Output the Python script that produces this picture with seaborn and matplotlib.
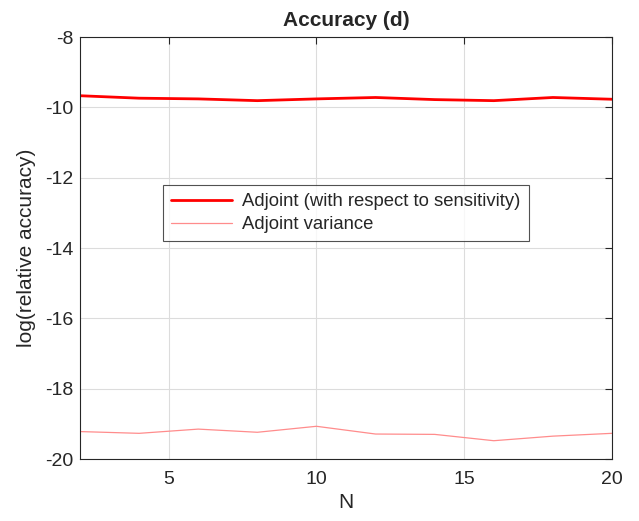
import numpy as np
import pandas as pd
import matplotlib
matplotlib.use('Agg')
from matplotlib import pyplot as plt
import seaborn as sns

# data
N = [2, 4, 6, 8, 10, 12, 14, 16, 18, 20]
adjoint = [-9.67, -9.74, -9.76, -9.81, -9.76, -9.72, -9.78, -9.81, -9.72, -9.77]
adjoint_var = [-19.22, -19.27, -19.15, -19.24, -19.07, -19.29, -19.30, -19.48, -19.35, -19.27]
labels = ['Adjoint (with respect to sensitivity)', 'Adjoint variance']

df = pd.DataFrame({'N': N * 2,
                   'value': adjoint + adjoint_var,
                   'series': [labels[0]] * len(N) + [labels[1]] * len(N)})

sns.set_style('white')
plt.rcParams['font.family'] = ['Liberation Sans', 'DejaVu Sans']
plt.rcParams['axes.unicode_minus'] = False

fig = plt.figure(figsize=(6.39, 5.21), dpi=100)
ax = fig.add_axes([80 / 639, 1 - 459 / 521, 532 / 639, 422 / 521])

g = sns.lineplot(data=df, x='N', y='value', hue='series', size='series',
                 palette={labels[0]: '#ff0000', labels[1]: '#ff8c8c'},
                 sizes={labels[0]: 2.0, labels[1]: 0.9}, ax=ax, legend=True)

ax.set_xlim(2, 20)
ax.set_ylim(-20, -8)
ax.set_xticks([5, 10, 15, 20])
ax.set_yticks(np.arange(-20, -7, 2))
ax.grid(True, color='#dcdcdc', linewidth=0.8)
ax.tick_params(direction='in', labelsize=14, length=5, top=True, right=True,
               labeltop=False, labelright=False, color='#262626', labelcolor='#262626')
ax.tick_params(axis='x', pad=9)
ax.tick_params(axis='y', pad=5)
for s in ax.spines.values():
    s.set_color('#262626')
    s.set_linewidth(0.8)

ax.set_xlabel('N', fontsize=15, color='#262626', labelpad=3)
ax.set_ylabel('log(relative accuracy)', fontsize=15, color='#262626', labelpad=6)
ax.set_title('Accuracy (d)', fontsize=15, fontweight='bold', pad=8)

# legend box sits inside the axes, like matplotlib's MATLAB-ish "northwest-ish" spot
handles, lbls = ax.get_legend_handles_labels()
leg = ax.legend(handles[:2], lbls[:2], loc='upper left', bbox_to_anchor=(0.156, 0.649),
                borderaxespad=0, fontsize=13.3, frameon=True, fancybox=False,
                edgecolor='#262626', handlelength=3.3, handletextpad=0.55,
                borderpad=0.45, labelspacing=0.3)
leg.get_frame().set_linewidth(0.8)

fig.savefig('out.png', dpi=100)
